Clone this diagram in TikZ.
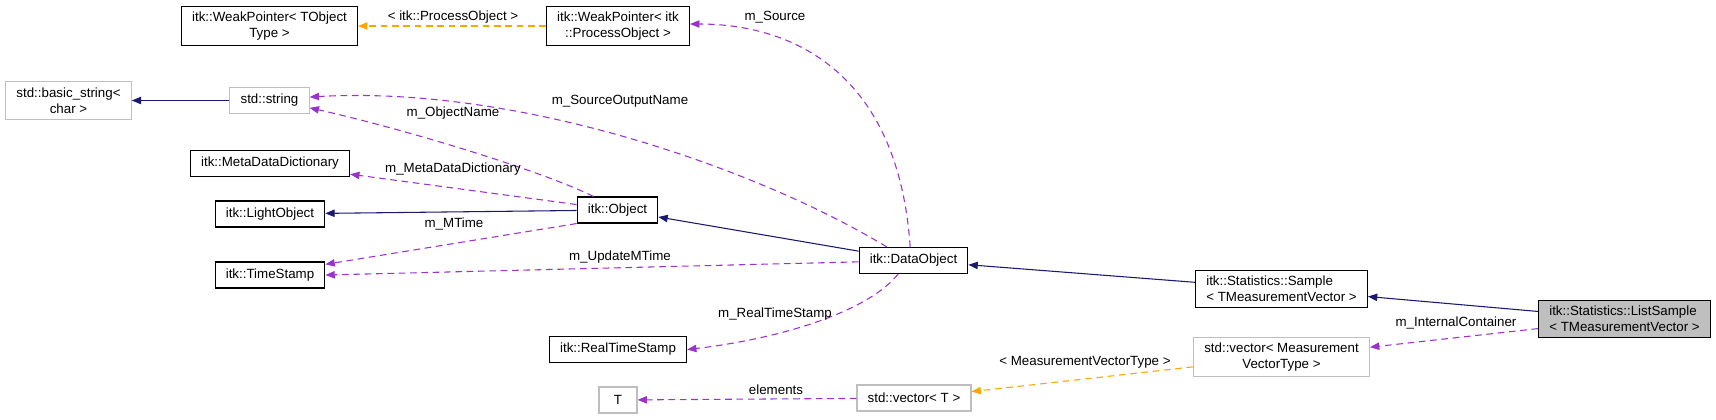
\documentclass[tikz,border=0pt]{standalone}
\usepackage{fontspec}
\setmainfont{Liberation Sans}
\usepackage{xcolor}
\usepackage{tikz}
\usetikzlibrary{arrows.meta, calc}

\definecolor{inhblue}{HTML}{191970}
\definecolor{usepurple}{HTML}{9A32CD}
\definecolor{tplorange}{HTML}{FFA500}
\definecolor{extgray}{HTML}{BFBFBF}

\begin{document}
\begin{tikzpicture}[x=0.75pt, y=-0.75pt, >={Triangle[length=7pt, width=5.5pt]}, font=\fontsize{10}{12}\selectfont,
    cls/.style={draw, rectangle, line width=0.8pt, inner xsep=8pt, inner ysep=4.3pt, minimum height=19.5pt, align=center},
    ext/.style={cls, draw=extgray},
    inh/.style={->, inhblue, line width=0.8pt},
    mbr/.style={->, usepurple, line width=0.8pt, dash pattern=on 5pt off 3.5pt},
    tpl/.style={->, tplorange, line width=0.8pt, dash pattern=on 5pt off 3.5pt},
    lbl/.style={inner sep=1pt}]
    \fill[white] (0,0) rectangle (1716,419);
    \useasboundingbox (0,0) rectangle (1716,419);

    \node[cls] (wpt) at (269.5,26) {itk::WeakPointer< TObject\\Type >};
    \node[cls] (wpp) at (618,26) {itk::WeakPointer< itk\\::ProcessObject >};
    \node[ext] (bstr) at (68.5,100.5) {std::basic\_string<\\char >};
    \node[ext] (str) at (269.5,100.5) {std::string};
    \node[cls] (mdd) at (270,163.5) {itk::MetaDataDictionary};
    \node[cls] (lobj) at (270,214) {itk::LightObject};
    \node[cls] (ts) at (270,275) {itk::TimeStamp};
    \node[cls] (obj) at (617.5,210) {itk::Object};
    \node[cls] (rts) at (618,349.5) {itk::RealTimeStamp};
    \node[ext, minimum width=28.5pt] (t) at (618,400) {T};
    \node[cls] (dobj) at (913.5,260.5) {itk::DataObject};
    \node[ext] (vect) at (914,398) {std::vector< T >};
    \node[cls, align=left] (smp) at (1281.5,289) {itk::Statistics::Sample\\< TMeasurementVector >};
    \node[ext] (vecm) at (1281.5,357) {std::vector< Measurement\\VectorType >};
    \node[cls, align=left, fill=extgray] (lst) at (1624.5,319) {itk::Statistics::ListSample\\< TMeasurementVector >};

    \draw[inh] (lst) -- (smp);
    \draw[inh] (smp) -- (dobj);
    \draw[inh] (dobj) -- (obj);
    \draw[inh] (obj) -- (lobj);
    \draw[inh] (str) -- (bstr);
    \draw[tpl] (wpp) -- (wpt);
    \draw[tpl] (vecm) -- (vect);
    \draw[mbr] (lst) -- (vecm);
    \draw[mbr] (vect) -- (t);
    \draw[mbr] (dobj) -- (ts.east);
    \draw[mbr] (obj.south west) -- ([yshift=8pt]ts.east);
    \draw[mbr] (obj) -- (mdd);
    \draw[mbr] ([xshift=-18pt]obj.north) .. controls (540,170) and (400,128) .. ([yshift=-5.5pt]str.east);
    \draw[mbr] ([xshift=-20pt]dobj.north) .. controls (760,170) and (520,85) .. ([yshift=2.6pt]str.east);
    \draw[mbr] ([xshift=-2.5pt]dobj.north) .. controls (898,70) and (790,24) .. ([yshift=1.5pt]wpp.east);
    \draw[mbr] ([xshift=-11.5pt]dobj.south) .. controls (865,315) and (770,340) .. (rts.east);

    \node[lbl] (lpo) at (453,17) {< itk::ProcessObject >};
    \node[lbl] (lsrc) at (775,17) {m\_Source};
    \node[lbl] (lson) at (620,101) {m\_SourceOutputName};
    \node[lbl] (lon) at (453,113) {m\_ObjectName};
    \node[lbl] (lmdd) at (453,169) {m\_MetaDataDictionary};
    \node[lbl] (lmt) at (454,224) {m\_MTime};
    \node[lbl] (lumt) at (620,257) {m\_UpdateMTime};
    \node[lbl] (lrts) at (775,314) {m\_RealTimeStamp};
    \node[lbl] (lmvt) at (1085,362) {< MeasurementVectorType >};
    \node[lbl] (lel) at (776,390) {elements};
    \node[lbl] (lic) at (1456,323) {m\_InternalContainer};
\end{tikzpicture}
\end{document}
